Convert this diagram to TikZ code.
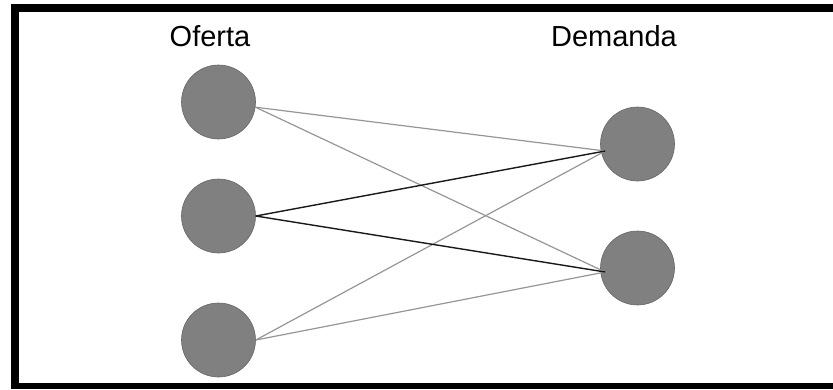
\documentclass[tikz,border=0pt]{standalone}
\usepackage{fontspec}
\setmainfont{Liberation Sans}
\definecolor{nodegray}{RGB}{128,128,128}
\definecolor{edgegray}{RGB}{150,150,150}
\definecolor{edgedark}{RGB}{25,25,25}
\begin{document}
\begin{tikzpicture}[x=1pt,y=-1pt,
  site/.style={circle,fill=nodegray,draw=nodegray!80!black,line width=0.6pt,minimum size=74pt,inner sep=0pt},
  title/.style={font=\fontsize{29}{34}\selectfont,anchor=base,inner sep=0pt},
  light/.style={draw=edgegray,line width=1.2pt},
  dark/.style={draw=edgedark,line width=1.4pt}]
\useasboundingbox (0,0) rectangle (833,389);
% frame
\fill[black] (11,4) rectangle (833,12);
\fill[black] (11,4) rectangle (19,389);
\fill[black] (11,383) rectangle (833,389);
% headings
\node[title] (tof) at (210,46) {Oferta};
\node[title] (tde) at (614,46) {Demanda};
% supply and demand sites
\node[site] (o1) at (218.5,102) {};
\node[site] (o2) at (218.5,216) {};
\node[site] (o3) at (218.5,340) {};
\node[site] (d1) at (637.5,144) {};
\node[site] (d2) at (637.5,268) {};
\coordinate (d1p) at ([shift={(5,7)}]d1.west);
\coordinate (d2p) at ([shift={(5,4)}]d2.west);
% connections
\draw[light] (o1.-8) -- (d1p);
\draw[light] (o1.-8) -- (d2p);
\draw[light] (o3.east) -- (d1p);
\draw[light] (o3.east) -- (d2p);
\draw[dark] (o2.east) -- (d1p);
\draw[dark] (o2.east) -- (d2p);
\end{tikzpicture}
\end{document}
